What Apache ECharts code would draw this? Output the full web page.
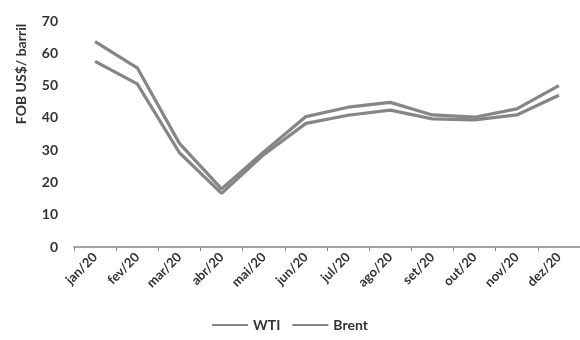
<!DOCTYPE html>
<html><head><meta charset="utf-8">
<script src="https://cdn.jsdelivr.net/npm/echarts@6/dist/echarts.min.js"></script>
<style>html,body{margin:0;padding:0;background:#fff}#c{width:580px;height:340px}</style>
</head><body><div id="c"></div>
<script>
const categories = ['jan/20','fev/20','mar/20','abr/20','mai/20','jun/20','jul/20','ago/20','set/20','out/20','nov/20','dez/20'];
const wti = [57.5, 50.5, 29.2, 16.6, 28.6, 38.3, 40.8, 42.4, 39.7, 39.4, 40.9, 47.0];
const brent = [63.6, 55.5, 32.1, 18.0, 29.4, 40.4, 43.3, 44.8, 40.9, 40.2, 42.8, 50.0];
const yTicks = [0, 70, 10];
const yName = 'FOB US$/ barril';

const font = 'Lato, "Liberation Sans", sans-serif';
const chart = echarts.init(document.getElementById('c'));
chart.setOption({
  animation: false,
  grid: { left: 74, right: -4, top: 21, bottom: 93 },
  legend: {
    bottom: 3, left: 'center', itemWidth: 36, itemHeight: 10, itemGap: 12,
    icon: 'path://M0,4 L36,4 L36,6 L0,6 Z',
    textStyle: { fontFamily: font, fontWeight: 'bold', fontSize: 14, color: '#333' },
    data: ['WTI', 'Brent']
  },
  graphic: [{
    type: 'text', x: 21, y: 74, rotation: Math.PI / 2,
    style: { text: yName, fontFamily: font, fontWeight: 'bold', fontSize: 14, fill: '#333',
      align: 'center', verticalAlign: 'middle' }
  }],
  xAxis: {
    type: 'category', data: categories, boundaryGap: true,
    axisLine: { lineStyle: { color: '#888', width: 1.5 } },
    axisTick: { show: true, length: 4, lineStyle: { color: '#888' } },
    axisLabel: { rotate: 45, margin: 8, fontFamily: font, fontWeight: 'bold', fontSize: 13, color: '#333' }
  },
  yAxis: {
    type: 'value', min: yTicks[0], max: yTicks[1], interval: yTicks[2],
    axisLine: { show: false }, axisTick: { show: false }, splitLine: { show: false },
    axisLabel: { margin: 16, fontFamily: font, fontWeight: 'bold', fontSize: 14, color: '#333' }
  },
  series: [
    { name: 'WTI', type: 'line', data: wti, symbol: 'none', itemStyle: { color: '#868686' },
      lineStyle: { color: '#868686', width: 3.2 } },
    { name: 'Brent', type: 'line', data: brent, symbol: 'none', itemStyle: { color: '#868686' },
      lineStyle: { color: '#868686', width: 3.2 } }
  ]
});
</script></body></html>
